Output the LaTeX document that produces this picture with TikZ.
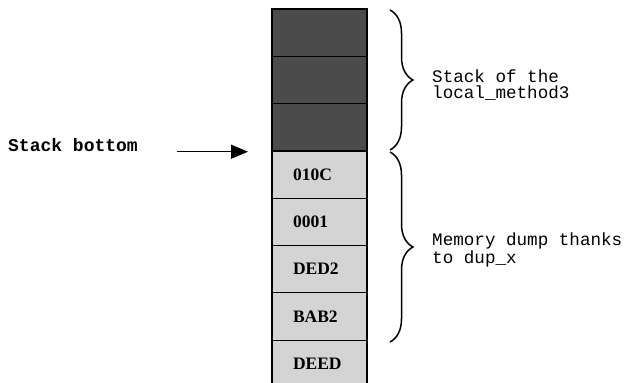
\documentclass[tikz,border=0pt]{standalone}
\usepackage{fontspec}
\setmainfont{Liberation Serif}
\newfontfamily\codefont{Liberation Mono}
\usetikzlibrary{arrows.meta,decorations.pathreplacing}

\definecolor{usedcell}{HTML}{4B4B4B}
\definecolor{dumpcell}{HTML}{D4D4D4}

\tikzset{
  cell/.style={draw=black, line width=1.2pt, minimum height=47.3pt,
    text width=53pt, inner xsep=21pt, inner ysep=0pt, outer sep=0pt,
    align=left, anchor=north west,
    font=\fontsize{17.5}{19}\selectfont\bfseries},
  usedbox/.style={cell, fill=usedcell},
  dumpbox/.style={cell, fill=dumpcell},
  sidebrace/.style={decorate, decoration={brace, amplitude=23pt},
    line width=1.5pt},
  note/.style={font=\codefont\fontsize{17.6}{16}\selectfont, align=left,
    inner sep=0pt, anchor=west},
  pointer/.style={-{Triangle[length=17pt,width=14pt]}, line width=1.3pt}
}

\begin{document}
\begin{tikzpicture}[x=1pt, y=-1pt]
  \clip (0,0) rectangle (630,383);

  % stack cells, top to bottom
  \node[usedbox] (c1) at (272,9) {};
  \node[usedbox] (c2) at (c1.south west) {};
  \node[usedbox] (c3) at (c2.south west) {};
  \node[dumpbox] (c4) at (c3.south west) {010C};
  \node[dumpbox] (c5) at (c4.south west) {0001};
  \node[dumpbox] (c6) at (c5.south west) {DED2};
  \node[dumpbox] (c7) at (c6.south west) {BAB2};
  \node[dumpbox] (c8) at (c7.south west) {DEED};

  % stack bottom marker
  \node[font=\codefont\bfseries\fontsize{18}{18}\selectfont, inner sep=0pt,
    anchor=base west] (sb) at (8,151) {Stack bottom};
  \coordinate (sbtail) at (177,151.7);
  \coordinate (sbtip) at (248,151.7);
  \draw[pointer] (sbtail) -- (sbtip);

  % braces and their notes
  \draw[sidebrace] (390,10) -- (390,150) coordinate[midway] (b1);
  \draw[sidebrace] (390,152) -- (390,342) coordinate[midway] (b2);
  \node[note] (n1) at (432,85) {Stack of the\\local\_method3};
  \node[note] (n2) at (432,250) {Memory dump thanks\\to dup\_x};
\end{tikzpicture}
\end{document}
